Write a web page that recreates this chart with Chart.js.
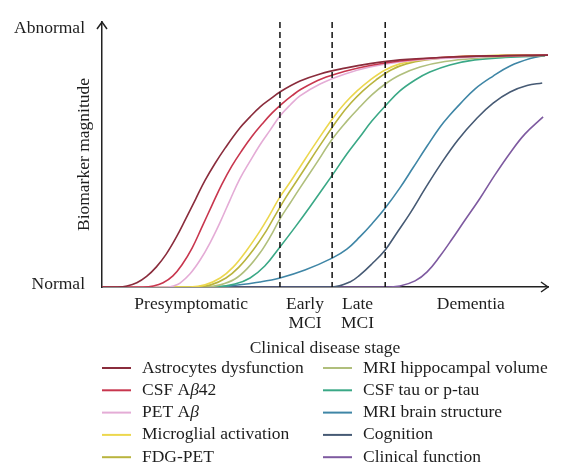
<!DOCTYPE html>
<html>
<head>
<meta charset="utf-8">
<script src="https://cdn.jsdelivr.net/npm/chart.js@4.4.1/dist/chart.umd.min.js"></script>
<style>
html, body { margin: 0; padding: 0; background: #fff; }
#wrap { width: 570px; height: 468px; }
</style>
</head>
<body>
<div id="wrap"><canvas id="chart"></canvas></div>
<script>
// stages along the x axis (0 = start, 100 = end of the arrow)
const stageLabels = ['Presymptomatic', ['Early', 'MCI'], ['Late', 'MCI'], 'Dementia'];
const stageLabelPos = [20.0, 45.5, 57.3, 82.7];
const stageBounds = [39.9, 51.6, 63.5];

const yTickValues = [0.8, 97.7];
const yTickLabels = ['Normal', 'Abnormal'];

// curves, [stage, magnitude]
const astrocytes = [[0,0],[3.4,0],[5.6,0.4],[7.8,1.6],[10.0,4.0],[12.2,7.6],[14.4,12.4],[16.6,18.6],[18.8,25.8],[21.0,33.2],[23.1,40.2],[25.3,46.5],[27.6,52.4],[30.9,60.0],[33.2,64.2],[35.4,67.9],[37.7,70.9],[39.9,73.6],[44.4,77.7],[48.9,80.4],[54.5,82.6],[60.1,84.3],[66.8,85.7],[75.8,86.6],[87.0,87.2],[100,87.5]];
const csfAb42 = [[0,0],[9.2,0],[11.5,0.4],[13.7,1.6],[15.9,4.2],[17.9,8.3],[20.2,14.7],[22.4,22.6],[24.7,31.0],[26.9,38.8],[29.1,45.6],[31.4,51.6],[33.6,56.8],[35.9,61.5],[38.1,65.6],[40.4,69.2],[42.6,72.2],[44.8,74.8],[49.3,78.6],[54.5,81.4],[60.1,83.6],[66.8,85.3],[75.8,86.6],[87.0,87.2],[100,87.5]];
const petAb = [[0,0],[14.6,0],[16.0,0.4],[17.5,1.5],[19.7,4.9],[22.0,10.2],[24.2,16.6],[26.5,24.5],[28.7,32.8],[30.9,40.8],[33.2,47.5],[35.4,53.6],[37.7,59.2],[39.9,64.5],[42.2,68.7],[44.4,72.1],[48.9,76.6],[54.5,80.4],[60.1,83.0],[66.8,84.9],[75.8,86.2],[87.0,87.0],[100,87.5]];
const microglial = [[0,0],[19.7,0],[23.1,0.8],[26.5,3.4],[29.4,7.5],[32.5,14.0],[35.4,21.1],[37.7,27.5],[39.9,34.0],[42.2,39.6],[44.4,45.3],[47.8,54.0],[51.8,63.8],[54.5,69.4],[57.2,74.0],[60.1,78.1],[63.5,81.9],[66.8,84.2],[71.3,85.7],[78.0,86.8],[89.2,87.4],[99.3,87.5]];
const fdgPet = [[0,0],[21.1,0],[24.4,0.8],[27.8,3.4],[30.7,7.5],[33.9,14.0],[36.8,21.1],[39.0,27.5],[41.3,34.0],[43.5,39.6],[45.7,45.3],[49.1,54.0],[53.1,63.8],[55.8,69.4],[58.5,74.0],[61.4,78.1],[64.8,81.9],[68.2,84.2],[72.6,85.7],[79.4,86.8],[90.4,87.4],[99.3,87.5]];
const mriHippo = [[0,0],[23.1,0],[26.5,0.8],[29.8,3.0],[32.7,7.2],[35.4,12.8],[37.7,18.9],[39.9,25.7],[42.2,31.7],[44.4,37.4],[47.8,46.0],[51.8,56.2],[54.9,62.6],[57.8,67.9],[60.5,72.5],[63.5,76.6],[66.8,80.0],[71.3,83.0],[76.9,85.1],[84.8,86.4],[93.7,87.2],[99.3,87.4]];
const csfTau = [[0,0],[25.3,0],[29.8,1.1],[33.2,3.4],[36.5,7.9],[39.9,15.1],[43.3,22.6],[46.6,30.2],[51.8,42.6],[54.9,50.2],[57.8,56.6],[60.5,62.6],[63.5,68.3],[66.8,74.0],[70.2,78.1],[73.5,81.1],[78.0,83.8],[83.6,85.7],[90.4,86.6],[99.3,87.2]];
const mriBrain = [[0,0],[22.0,0],[28.7,0.4],[35.4,1.9],[39.9,3.4],[45.5,6.4],[51.6,10.9],[54.9,14.3],[57.8,18.9],[60.5,23.8],[63.5,29.8],[66.8,37.4],[69.7,44.9],[72.9,53.2],[75.8,60.4],[78.0,64.9],[80.3,69.1],[83.6,74.7],[87.7,79.6],[91.5,83.4],[96.0,86.2],[99.3,87.4]];
const cognition = [[0,0],[51.6,0],[55.6,1.9],[57.8,4.5],[60.5,8.7],[63.5,14.0],[66.1,20.4],[69.1,27.9],[72.4,37.0],[75.8,46.0],[79.8,55.5],[84.1,63.8],[87.7,69.4],[91.5,73.6],[95.3,76.0],[98.7,77.0]];
const clinical = [[0,0],[63.5,0],[66.8,0.4],[70.2,2.3],[72.9,5.7],[75.8,11.7],[78.5,18.1],[81.4,25.3],[84.8,33.6],[88.1,42.3],[91.5,50.6],[94.8,57.7],[98.9,64.2]];

const seriesNames = ['Astrocytes dysfunction', 'CSF Aβ42', 'PET Aβ', 'Microglial activation', 'FDG-PET',
    'MRI hippocampal volume', 'CSF tau or p-tau', 'MRI brain structure', 'Cognition', 'Clinical function'];
const seriesPoints = [astrocytes, csfAb42, petAb, microglial, fdgPet, mriHippo, csfTau, mriBrain, cognition, clinical];
const seriesColors = ['#8a2c3c', '#c8364e', '#e4acd6', '#ecd74e', '#b9b43e',
    '#b0bf7c', '#3aa886', '#3f86a6', '#465a74', '#7e5aa0'];

const serif = "'Liberation Serif', 'DejaVu Serif', serif";
const ink = '#1e1e1e';

// draw a label, putting every β in italics
function fillMixed(ctx, text, x, y, size) {
    const parts = text.split(/(β)/);
    parts.forEach(p => {
        if (!p) return;
        ctx.font = (p === 'β' ? 'italic ' : '') + size + 'px ' + serif;
        ctx.fillText(p, x, y);
        x += ctx.measureText(p).width;
    });
}

const overlay = {
    id: 'overlay',
    afterDatasetsDraw(chart) {
        const {ctx, chartArea: a, scales: {x}} = chart;
        ctx.save();
        ctx.strokeStyle = '#111';
        ctx.lineWidth = 1.5;
        ctx.setLineDash([6, 4]);
        stageBounds.forEach(v => {
            const px = x.getPixelForValue(v);
            ctx.beginPath();
            ctx.moveTo(px, a.top);
            ctx.lineTo(px, a.bottom);
            ctx.stroke();
        });
        ctx.restore();
    },
    afterDraw(chart) {
        const {ctx, chartArea: a} = chart;
        ctx.save();
        // arrow heads
        ctx.strokeStyle = '#222';
        ctx.lineWidth = 1.5;
        ctx.beginPath();
        ctx.moveTo(a.left - 5, a.top + 7);
        ctx.lineTo(a.left, a.top);
        ctx.lineTo(a.left + 5, a.top + 7);
        ctx.moveTo(a.right - 7, a.bottom - 5);
        ctx.lineTo(a.right, a.bottom);
        ctx.lineTo(a.right - 7, a.bottom + 5);
        ctx.stroke();
        // two column legend
        ctx.textBaseline = 'middle';
        ctx.fillStyle = ink;
        chart.data.datasets.forEach((ds, i) => {
            const col = Math.floor(i / 5), row = i % 5;
            const x0 = col ? 323 : 102;
            const y0 = 368 + row * 22.3;
            ctx.strokeStyle = ds.borderColor;
            ctx.lineWidth = 2;
            ctx.beginPath();
            ctx.moveTo(x0, y0);
            ctx.lineTo(x0 + 29, y0);
            ctx.stroke();
            fillMixed(ctx, ds.label, x0 + 40, y0, 17.5);
        });
        ctx.restore();
    }
};

new Chart(document.getElementById('chart'), {
    type: 'line',
    data: {
        datasets: seriesNames.map((name, i) => ({
            label: name,
            data: seriesPoints[i].map(([x, y]) => ({x: x, y: y})),
            borderColor: seriesColors[i],
            borderWidth: 1.6,
            pointRadius: 0,
            fill: false,
            tension: 0.4
        }))
    },
    options: {
        responsive: true,
        maintainAspectRatio: false,
        animation: false,
        layout: { padding: { top: 22, right: 22, bottom: 108, left: 0 } },
        plugins: { legend: { display: false }, tooltip: { enabled: false } },
        scales: {
            x: {
                type: 'linear',
                min: 0,
                max: 100,
                afterFit(scale) { scale.height = 73; },
                afterBuildTicks(scale) { scale.ticks = stageLabelPos.map(v => ({value: v})); },
                grid: { display: false },
                border: { display: true, color: '#222', width: 1.5 },
                ticks: {
                    autoSkip: false,
                    maxRotation: 0,
                    padding: 0,
                    color: ink,
                    font: { family: serif, size: 17.5, lineHeight: 1.07 },
                    callback: (v, i) => stageLabels[i]
                },
                title: {
                    display: true,
                    text: 'Clinical disease stage',
                    color: ink,
                    font: { family: serif, size: 17.5 },
                    padding: { top: 0, bottom: 1.5 }
                }
            },
            y: {
                type: 'linear',
                min: 0,
                max: 100,
                afterFit(scale) { scale.width = 102; },
                afterBuildTicks(scale) { scale.ticks = yTickValues.map(v => ({value: v})); },
                grid: { display: false },
                border: { display: true, color: '#222', width: 1.5 },
                ticks: {
                    padding: 9,
                    color: ink,
                    font: { family: serif, size: 17.5 },
                    callback: (v, i) => yTickLabels[i]
                },
                title: {
                    display: true,
                    text: 'Biomarker magnitude',
                    color: ink,
                    font: { family: serif, size: 17.5 },
                    padding: { top: 73.5, bottom: 0 }
                }
            }
        }
    },
    plugins: [overlay]
});
</script>
</body>
</html>
